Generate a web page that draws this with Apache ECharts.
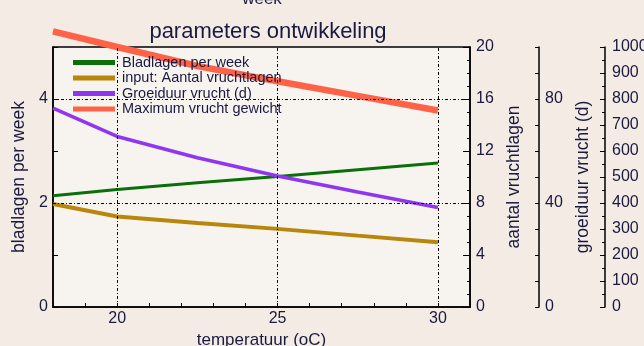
<!DOCTYPE html>
<html>
<head>
<meta charset="utf-8">
<script src="https://cdn.jsdelivr.net/npm/echarts@6/dist/echarts.min.js"></script>
<style>
html, body { margin: 0; padding: 0; background: #f3ebe4; }
#chart1 { width: 644px; height: 346px; }
</style>
</head>
<body>
<div id="chart1"></div>
<script>
var temps = [18, 20, 22.5, 25, 27.5, 30];
var bladlagen = [2.14, 2.26, 2.39, 2.51, 2.64, 2.77];
var vruchtlagen = [7.92, 6.96, 6.47, 6.01, 5.49, 4.98];
var groeiduur = [76.5, 65.6, 57.4, 50.4, 44.2, 38.3];
var gewicht = [1060, 1000, 927, 868, 812, 756];
var gridX = [20, 25, 30];
var gridY = [2, 4];

var ink = '#1a1a40';
function pairs(ys) {
	return temps.map(function (t, i) { return [t, ys[i]]; });
}
var gridDash = { color: '#000', width: 1, type: [3, 2, 1, 2] };
var markData = gridX.map(function (v) { return { xAxis: v }; })
	.concat(gridY.map(function (v) { return { yAxis: v }; }));

var option = {
	backgroundColor: '#f3ebe4',
	animation: false,
	textStyle: { fontFamily: 'Liberation Sans, Arial, sans-serif', color: ink },
	title: {
		text: 'parameters ontwikkeling',
		left: 263,
		textAlign: 'center',
		top: 16,
		textStyle: { fontSize: 22, fontWeight: 'normal', color: ink }
	},
	graphic: [{
		type: 'text',
		style: { text: 'week', x: 262, y: 8, textAlign: 'center', textVerticalAlign: 'bottom', fontSize: 17, fill: ink, fontFamily: 'Liberation Sans, Arial, sans-serif' }
	}],
	legend: {
		orient: 'vertical',
		left: 73,
		top: 55,
		padding: 0,
		itemGap: 0.5,
		itemWidth: 42,
		itemHeight: 5,
		icon: 'rect',
		textStyle: { fontSize: 14.5, lineHeight: 14, color: ink, padding: [0, 0, 0, 2] },
		data: ['Bladlagen per week', 'input: Aantal vruchtlagen', 'Groeiduur vrucht (d)', 'Maximum vrucht gewicht']
	},
	grid: {
		left: 53, right: 174, top: 47, bottom: 39,
		outerBoundsMode: 'none',
		containLabel: false,
		show: true, borderColor: '#000', borderWidth: 1.5, backgroundColor: '#f7f4ef'
	},
	xAxis: {
		type: 'value',
		min: 18, max: 31, interval: 1,
		name: 'temperatuur (oC)',
		nameLocation: 'middle',
		nameGap: 24,
		nameTextStyle: { fontSize: 17, color: ink, verticalAlign: 'top' },
		axisLine: { lineStyle: { color: '#000', width: 1.5 } },
		axisTick: { inside: true, length: 4, lineStyle: { color: '#000' } },
		axisLabel: {
			fontSize: 16, color: ink, margin: 4,
			formatter: function (v) { return v % 5 === 0 ? v : ''; }
		},
		splitLine: { show: false }
	},
	yAxis: [{
		type: 'value', position: 'left',
		min: 0, max: 5, interval: 1,
		name: 'bladlagen per week',
		nameLocation: 'middle', nameRotate: 90, nameGap: 18,
		nameTextStyle: { fontSize: 17.5, color: ink },
		axisLine: { show: true, lineStyle: { color: '#000', width: 1.5 } },
		axisTick: { show: true, inside: true, length: 5, lineStyle: { color: '#000' } },
		axisLabel: {
			fontSize: 16, color: ink, margin: 5,
			formatter: function (v) { return v % 2 === 0 ? v : ''; }
		},
		splitLine: { show: false }
	}, {
		type: 'value', position: 'right',
		min: 0, max: 20, interval: 4,
		name: 'aantal vruchtlagen',
		nameLocation: 'middle', nameRotate: 90, nameGap: 30,
		nameTextStyle: { fontSize: 17.5, color: ink },
		axisLine: { show: true, lineStyle: { color: '#000', width: 1.5 } },
		axisTick: { show: true, inside: true, length: 7, lineStyle: { color: '#000' } },
		minorTick: { show: true, splitNumber: 4, length: 3, lineStyle: { color: '#000' } },
		axisLabel: { fontSize: 16, color: ink, margin: 6 },
		splitLine: { show: false }
	}, {
		type: 'value', position: 'right', offset: 69,
		min: 0, max: 100, interval: 10,
		name: 'groeiduur vrucht (d)',
		nameLocation: 'middle', nameRotate: 90, nameGap: 24,
		nameTextStyle: { fontSize: 17.5, color: ink },
		axisLine: { show: true, lineStyle: { color: '#000', width: 1.5 } },
		axisTick: { show: true, inside: true, length: 4, lineStyle: { color: '#000' } },
		axisLabel: {
			fontSize: 16, color: ink, margin: 6,
			formatter: function (v) { return v % 40 === 0 ? v : ''; }
		},
		splitLine: { show: false }
	}, {
		type: 'value', position: 'right', offset: 135,
		min: 0, max: 1000, interval: 100,
		axisLine: { show: true, lineStyle: { color: '#000', width: 1.5 } },
		axisTick: { show: true, inside: true, length: 5, lineStyle: { color: '#000' } },
		minorTick: { show: true, splitNumber: 2, length: 3, lineStyle: { color: '#000' } },
		axisLabel: { fontSize: 16, color: ink, margin: 7, formatter: function (v) { return String(v); } },
		splitLine: { show: false }
	}],
	series: [{
		name: 'grid',
		type: 'line',
		yAxisIndex: 0,
		data: [],
		z: 1,
		silent: true,
		markLine: {
			silent: true,
			symbol: 'none',
			label: { show: false },
			lineStyle: gridDash,
			data: markData
		}
	}, {
		name: 'Bladlagen per week',
		type: 'line',
		yAxisIndex: 0,
		data: pairs(bladlagen),
		showSymbol: false,
		z: 3,
		lineStyle: { width: 3, color: '#0a6e0a' },
		itemStyle: { color: '#0a6e0a' }
	}, {
		name: 'input: Aantal vruchtlagen',
		type: 'line',
		yAxisIndex: 1,
		data: pairs(vruchtlagen),
		showSymbol: false,
		z: 3,
		lineStyle: { width: 4, color: '#b8860b' },
		itemStyle: { color: '#b8860b' }
	}, {
		name: 'Groeiduur vrucht (d)',
		type: 'line',
		yAxisIndex: 2,
		data: pairs(groeiduur),
		showSymbol: false,
		z: 3,
		lineStyle: { width: 3.5, color: '#9035f0' },
		itemStyle: { color: '#9035f0' }
	}, {
		name: 'Maximum vrucht gewicht',
		type: 'line',
		yAxisIndex: 3,
		data: pairs(gewicht),
		showSymbol: false,
		clip: false,
		z: 3,
		lineStyle: { width: 6.5, color: '#ff6347' },
		itemStyle: { color: '#ff6347' }
	}]
};
var chart1 = echarts.init(document.getElementById('chart1'));
chart1.setOption(option);
</script>
</body>
</html>
